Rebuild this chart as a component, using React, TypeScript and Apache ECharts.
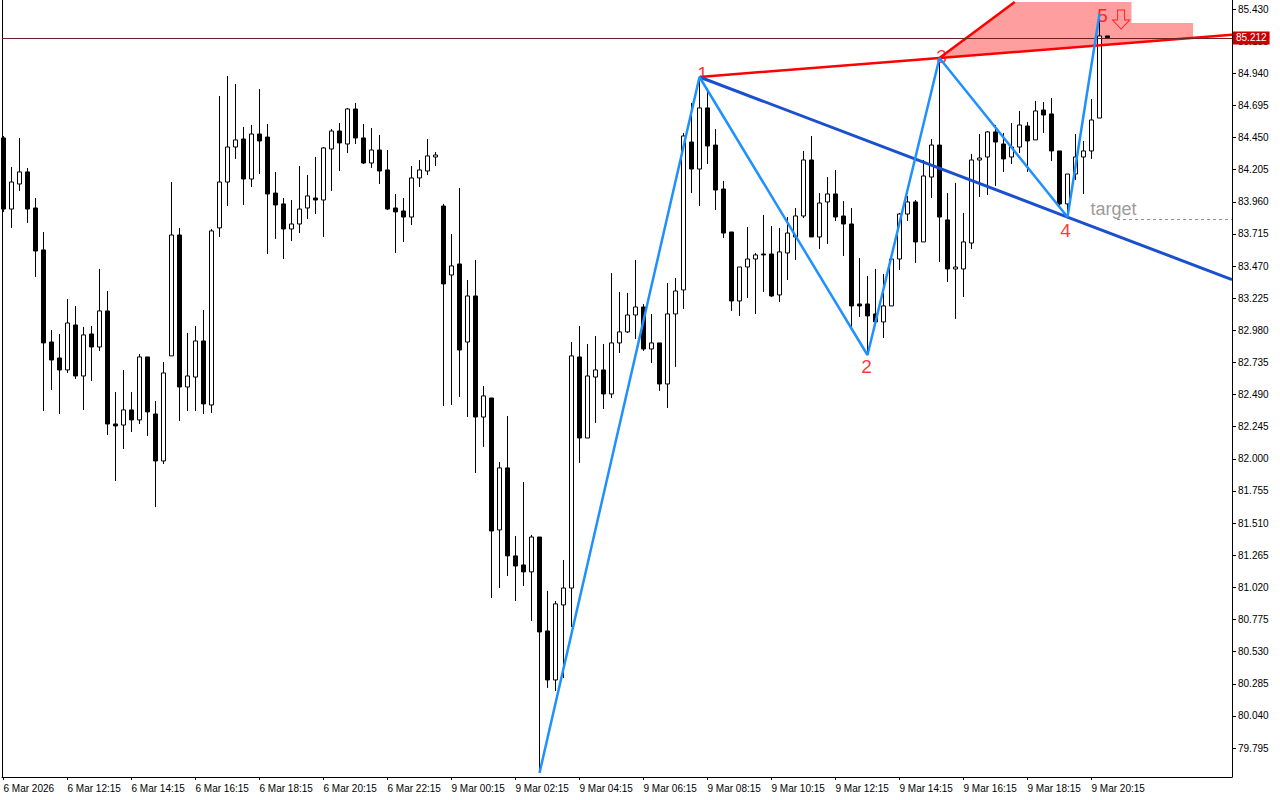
import React, { useEffect, useRef } from "react";
import * as echarts from "echarts";

// ---- Candles (15-minute bars, index 0 = 6 Mar 10:15) ----
const opens = [
  84.447, 83.905, 84.096, 84.188, 83.913, 83.593, 82.891, 82.769, 82.678, 83.021,
  82.632, 82.952, 82.853, 83.128, 82.266, 82.258, 82.373, 82.297, 82.777, 82.342,
  81.984, 82.785, 83.707, 82.548, 82.624, 82.899, 82.411, 83.761, 84.111, 84.378,
  84.439, 84.134, 84.477, 84.454, 84.027, 83.944, 83.753, 83.791, 83.913, 83.989,
  83.974, 84.363, 84.500, 84.401, 84.668, 84.447, 84.256, 84.355, 84.203, 83.913,
  83.890, 83.844, 84.142, 84.195, 84.302, 83.928, 83.402, 83.486, 82.891, 83.242,
  82.319, 82.464, 81.458, 81.931, 81.260, 81.191, 81.138, 81.404, 80.688, 80.314,
  80.886, 81.015, 82.777, 82.159, 82.624, 82.678, 82.495, 82.884, 82.968, 83.097,
  83.158, 82.838, 82.884, 82.571, 83.105, 83.288, 84.416, 84.210, 84.676, 84.393,
  84.058, 83.730, 83.204, 83.463, 83.524, 83.562, 83.562, 83.250, 83.570, 83.692,
  83.852, 84.279, 83.692, 83.959, 84.020, 83.852, 83.791, 83.181, 83.181, 83.105,
  83.044, 83.166, 83.524, 83.867, 83.959, 83.654, 84.149, 84.393, 83.822, 83.448,
  83.448, 83.646, 84.279, 84.302, 84.493, 84.401, 84.302, 84.378, 84.538, 84.432,
  84.660, 84.630, 84.348, 83.944, 84.172, 84.302, 84.348, 84.599, 85.225,
];
const closes = [
  83.905, 84.111, 84.188, 83.905, 83.585, 82.884, 82.754, 82.678, 83.036, 82.632,
  82.945, 82.853, 83.128, 82.266, 82.251, 82.373, 82.297, 82.777, 82.358, 81.984,
  82.655, 83.707, 82.548, 82.632, 82.899, 82.419, 83.738, 84.111, 84.378, 84.432,
  84.134, 84.477, 84.424, 84.020, 83.936, 83.753, 83.791, 83.905, 84.005, 83.974,
  84.371, 84.500, 84.409, 84.668, 84.447, 84.256, 84.355, 84.195, 83.905, 83.883,
  83.844, 84.142, 84.203, 84.310, 84.317, 83.334, 83.471, 82.830, 83.242, 82.319,
  82.480, 81.450, 81.931, 81.260, 81.183, 81.138, 81.404, 80.680, 80.314, 80.894,
  81.015, 82.785, 82.159, 82.632, 82.678, 82.495, 82.884, 82.968, 83.097, 83.158,
  82.838, 82.884, 82.571, 83.105, 83.280, 84.462, 84.210, 84.676, 84.386, 84.050,
  83.722, 83.204, 83.463, 83.524, 83.555, 83.555, 83.242, 83.578, 83.722, 83.852,
  84.279, 83.692, 83.951, 84.020, 83.844, 83.791, 83.166, 83.166, 83.090, 83.044,
  83.166, 83.524, 83.867, 83.959, 83.654, 84.157, 84.393, 83.844, 83.448, 83.463,
  83.654, 84.279, 84.294, 84.493, 84.416, 84.287, 84.378, 84.546, 84.424, 84.653,
  84.622, 84.348, 83.944, 84.172, 84.302, 84.348, 84.584, 85.225, 85.212,
];
const lows = [
  83.883, 83.761, 84.043, 83.799, 83.387, 82.365, 82.525, 82.342, 82.655, 82.609,
  82.373, 82.594, 82.823, 82.182, 81.831, 82.075, 82.205, 82.266, 82.175, 81.633,
  81.961, 82.785, 82.289, 82.365, 82.365, 82.342, 82.350, 83.692, 83.928, 84.287,
  83.936, 84.073, 84.172, 83.562, 83.677, 83.524, 83.661, 83.722, 83.829, 83.867,
  83.692, 84.043, 84.195, 84.332, 84.401, 84.249, 84.218, 84.096, 83.898, 83.570,
  83.654, 83.783, 84.073, 84.165, 84.233, 82.403, 82.411, 82.472, 82.319, 81.892,
  82.091, 80.939, 81.015, 81.107, 80.916, 81.031, 80.764, 79.605, 80.253, 80.230,
  80.329, 80.718, 81.969, 82.159, 82.274, 82.380, 82.464, 82.807, 82.960, 82.914,
  82.823, 82.731, 82.518, 82.388, 82.701, 83.143, 84.027, 83.928, 84.249, 83.898,
  83.684, 83.128, 83.090, 83.227, 83.105, 83.273, 83.234, 83.196, 83.364, 83.517,
  83.837, 83.692, 83.600, 83.639, 83.814, 83.547, 83.006, 83.082, 82.792, 83.036,
  82.922, 83.166, 83.440, 83.814, 83.494, 83.654, 83.989, 83.501, 83.349, 83.067,
  83.234, 83.600, 83.997, 84.012, 84.081, 84.188, 84.249, 84.332, 84.188, 84.432,
  84.485, 84.271, 83.921, 83.844, 84.127, 84.020, 84.287, 84.599, 85.212,
];
const highs = [
  84.462, 84.226, 84.447, 84.218, 83.989, 83.730, 82.983, 82.952, 83.219, 83.166,
  83.006, 83.013, 83.448, 83.280, 82.510, 82.678, 82.510, 82.800, 82.777, 82.441,
  82.739, 84.111, 83.761, 82.960, 83.013, 83.135, 83.753, 84.767, 84.920, 84.859,
  84.531, 84.546, 84.820, 84.554, 84.188, 83.989, 83.974, 84.233, 84.165, 84.302,
  84.378, 84.515, 84.561, 84.676, 84.714, 84.554, 84.523, 84.470, 84.355, 84.020,
  83.989, 84.233, 84.279, 84.439, 84.340, 83.944, 83.715, 84.066, 83.364, 83.517,
  82.556, 82.464, 81.976, 82.327, 81.412, 81.824, 81.420, 81.404, 80.993, 80.916,
  81.229, 82.891, 83.013, 82.876, 82.937, 82.876, 83.417, 83.273, 83.265, 83.517,
  83.181, 83.105, 82.884, 83.341, 83.379, 84.485, 84.714, 84.912, 84.828, 84.515,
  84.119, 83.730, 83.463, 83.768, 83.570, 83.860, 83.776, 83.761, 83.844, 83.913,
  84.348, 84.462, 84.027, 84.149, 84.203, 83.966, 83.913, 83.532, 83.395, 83.448,
  83.410, 83.532, 83.875, 84.005, 83.974, 84.279, 84.439, 85.057, 84.027, 84.104,
  83.875, 84.325, 84.477, 84.500, 84.546, 84.485, 84.561, 84.653, 84.569, 84.729,
  84.721, 84.752, 84.348, 84.172, 84.477, 84.424, 84.744, 85.392, 85.225,
];

// ---- Axis ticks ----
const xTickIndex = [0, 8, 16, 24, 32, 40, 48, 56, 64, 72, 80, 88, 96, 104, 112, 120, 128, 136];
const xTickLabels = [
  "6 Mar 2026", "6 Mar 12:15", "6 Mar 14:15", "6 Mar 16:15", "6 Mar 18:15", "6 Mar 20:15",
  "6 Mar 22:15", "9 Mar 00:15", "9 Mar 02:15", "9 Mar 04:15", "9 Mar 06:15", "9 Mar 08:15",
  "9 Mar 10:15", "9 Mar 12:15", "9 Mar 14:15", "9 Mar 16:15", "9 Mar 18:15", "9 Mar 20:15",
];
const yTickValues = [
  85.43, 85.185, 84.94, 84.695, 84.45, 84.205, 83.96, 83.715, 83.47, 83.225, 82.98, 82.735,
  82.49, 82.245, 82.0, 81.755, 81.51, 81.265, 81.02, 80.775, 80.53, 80.285, 80.04, 79.795,
];

// ---- Wave pattern (bar index, price) ----
const zigzagIndex = [67, 87, 108, 117, 133, 137];
const zigzagPrice = [79.605, 84.912, 82.792, 85.057, 83.844, 85.392];
const waveLabels = ["1", "2", "3", "4", "5"];
const upperLineEnd = [126.4, 85.484];
const zoneTopPrice = 85.484;
const zoneStepIndex = 141.0;
const zoneStepPrice = 85.324;
const zoneEndIndex = 148.7;
const currentPrice = 85.212;
const targetPrice = 83.825;
const targetStartIndex = 139.2;
const targetTextPoint = [135.8, 83.905];
const arrowPoint = [139.7, 85.35];

const X_MIN = -0.1875;
const X_MAX = 153.5625;
const Y_MIN = 79.574;
const Y_MAX = 85.499;

const FONT = "Liberation Sans, Arial, sans-serif";

function extendTo(a: number[], b: number[], x: number): number[] {
  const k = (b[1] - a[1]) / (b[0] - a[0]);
  return [x, a[1] + k * (x - a[0])];
}

export default function App() {
  const ref = useRef<HTMLDivElement>(null);

  useEffect(() => {
    if (!ref.current) return;
    const chart = echarts.init(ref.current, undefined, { renderer: "svg" });

    const pts = zigzagIndex.map((x, i) => [x, zigzagPrice[i]]);
    const P1 = pts[1];
    const P3 = pts[3];
    const P4 = pts[4];
    const redEnd = extendTo(P1, P3, X_MAX);
    const blueEnd = extendTo(P1, P4, X_MAX);
    const zoneLow = extendTo(P1, P3, zoneEndIndex);
    const zonePoints = [
      P3,
      upperLineEnd,
      [zoneStepIndex, zoneTopPrice],
      [zoneStepIndex, zoneStepPrice],
      [zoneEndIndex, zoneStepPrice],
      zoneLow,
    ];

    const candleData = opens.map((o, i) => [i, o, closes[i], lows[i], highs[i]]);
    const labelOffsets = [
      [3, -3],
      [-1, 12],
      [2, -1],
      [-2, 13],
      [3, 1],
    ];

    const option: any = {
      animation: false,
      backgroundColor: "#ffffff",
      grid: { left: 2, right: 48, top: 0, bottom: 23, containLabel: false },
      xAxis: {
        type: "value",
        min: X_MIN,
        max: X_MAX,
        axisLine: { show: true, onZero: false, lineStyle: { color: "#000", width: 1 } },
        axisTick: {
          show: true,
          customValues: xTickIndex,
          length: 3,
          lineStyle: { color: "#000" },
        },
        axisLabel: {
          customValues: xTickIndex,
          formatter: (v: number) => {
            const k = xTickIndex.indexOf(Math.round(v));
            return k >= 0 ? xTickLabels[k] : "";
          },
          align: "left",
          color: "#000",
          fontSize: 10,
          fontFamily: FONT,
          margin: 6,
        },
        splitLine: { show: false },
      },
      yAxis: [
        {
          type: "value",
          position: "right",
          min: Y_MIN,
          max: Y_MAX,
          axisLine: { show: true, onZero: false, lineStyle: { color: "#000", width: 1 } },
          axisTick: {
            show: true,
            customValues: yTickValues,
            length: 4,
            lineStyle: { color: "#000" },
          },
          axisLabel: {
            customValues: yTickValues,
            formatter: (v: number) => v.toFixed(3),
            color: "#000",
            fontSize: 10,
            fontFamily: FONT,
            margin: 6,
          },
          splitLine: { show: false },
        },
        {
          type: "value",
          position: "left",
          min: Y_MIN,
          max: Y_MAX,
          axisLine: { show: true, onZero: false, lineStyle: { color: "#000", width: 1 } },
          axisTick: { show: false },
          axisLabel: { show: false },
          splitLine: { show: false },
        },
      ],
      series: [
        {
          type: "custom",
          name: "zone",
          z: 1,
          silent: true,
          clip: true,
          data: [P3],
          renderItem: (_params: any, api: any) => ({
            type: "polygon",
            shape: { points: zonePoints.map((p) => api.coord(p)) },
            style: { fill: "#ff9e9e" },
          }),
        },
        {
          type: "candlestick",
          z: 2,
          silent: true,
          dimensions: ["x", "open", "close", "lowest", "highest"],
          encode: { x: "x", y: ["open", "close", "lowest", "highest"] },
          data: candleData,
          barWidth: 4,
          itemStyle: {
            color: "#ffffff",
            color0: "#000000",
            borderColor: "#000000",
            borderColor0: "#000000",
            borderColorDoji: "#000000",
            borderWidth: 1,
          },
          markLine: {
            silent: true,
            symbol: ["none", "none"],
            lineStyle: { color: "#6e2222", width: 1, type: "solid" },
            label: {
              show: true,
              position: "end",
              formatter: currentPrice.toFixed(3),
              color: "#ffffff",
              backgroundColor: "#cc0000",
              padding: [2, 3, 1, 3],
              fontSize: 10,
              fontFamily: FONT,
              distance: 1,
            },
            data: [{ yAxis: currentPrice }],
          },
        },
        {
          type: "scatter",
          z: 3,
          silent: true,
          symbolSize: 1,
          itemStyle: { color: "rgba(0,0,0,0)" },
          data: waveLabels.map((t, k) => ({
            name: t,
            value: pts[k + 1],
            label: { offset: labelOffsets[k] },
          })),
          label: {
            show: true,
            position: "inside",
            formatter: "{b}",
            color: "#ff0000",
            fontSize: 19,
            fontFamily: FONT,
          },
        },
        {
          type: "line",
          z: 4,
          silent: true,
          symbol: "none",
          data: [
            [targetStartIndex, targetPrice],
            [X_MAX, targetPrice],
          ],
          lineStyle: { color: "#8c8c8c", width: 1, type: [3, 3] },
        },
        {
          type: "line",
          z: 4,
          silent: true,
          symbol: "none",
          data: [P3, upperLineEnd],
          lineStyle: { color: "#ff0000", width: 2.5 },
        },
        {
          type: "line",
          z: 4,
          silent: true,
          symbol: "none",
          data: [P1, P3, redEnd],
          lineStyle: { color: "#ff0000", width: 2.5 },
        },
        {
          type: "line",
          z: 4,
          silent: true,
          symbol: "none",
          data: [P1, P4, blueEnd],
          lineStyle: { color: "#1a4fcf", width: 3 },
        },
        {
          type: "line",
          z: 5,
          silent: true,
          symbol: "none",
          data: pts,
          lineStyle: { color: "#1e90ff", width: 2.5 },
        },
        {
          type: "scatter",
          z: 6,
          silent: true,
          symbol: "path://M5,0 L12,0 L12,10 L17,10 L8.5,19 L0,10 L5,10 Z",
          symbolSize: [17, 19],
          itemStyle: { color: "rgba(0,0,0,0)", borderColor: "#ff0000", borderWidth: 1 },
          data: [arrowPoint],
        },
        {
          type: "scatter",
          z: 6,
          silent: true,
          symbolSize: 1,
          itemStyle: { color: "rgba(0,0,0,0)" },
          data: [{ name: "target", value: targetTextPoint }],
          label: {
            show: true,
            position: "right",
            distance: 0,
            formatter: "{b}",
            color: "#808080",
            fontSize: 18,
            fontFamily: FONT,
          },
        },
      ],
    };

    chart.setOption(option);
    return () => chart.dispose();
  }, []);

  return (
    <div
      ref={ref}
      style={{ position: "fixed", left: 0, top: 0, width: 1280, height: 800, background: "#fff" }}
    />
  );
}
